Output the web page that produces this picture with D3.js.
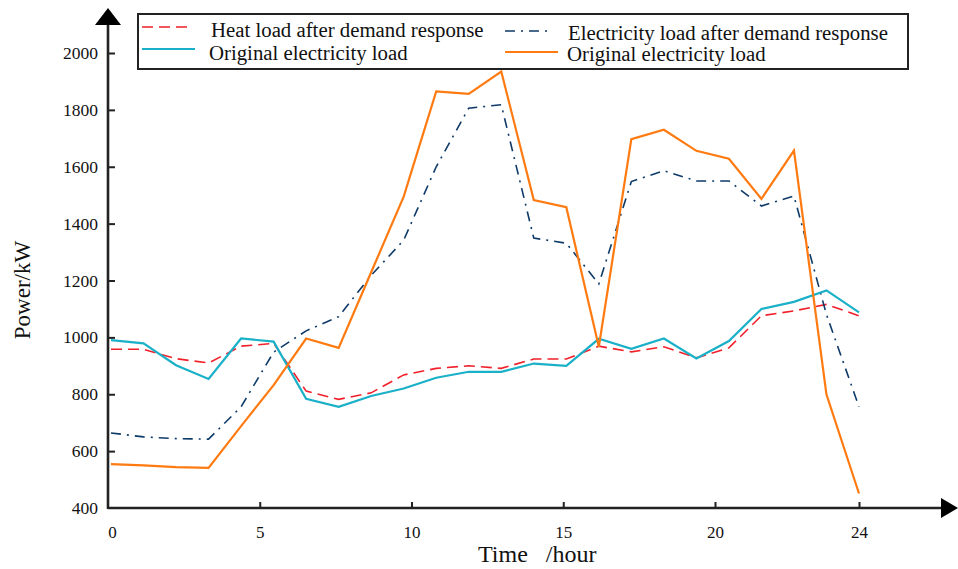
<!DOCTYPE html>
<html>
<head>
<meta charset="utf-8">
<script src="https://cdn.jsdelivr.net/npm/d3@7"></script>
<style>
  body { margin: 0; background: #fff; }
  svg text { font-family: "Liberation Serif", "Times New Roman", serif; fill: #111; }
</style>
</head>
<body>
<div id="chart"></div>
<script>
var width = 958,
    height = 569;
var serif = '"Liberation Serif", "Times New Roman", serif';

// hours 1..24
var hours = [1, 2, 3, 4, 5, 6, 7, 8, 9, 10, 11, 12, 13, 14, 15, 16, 17, 18, 19, 20, 21, 22, 23, 24];
var heatAfterDR = [958, 958, 925, 910, 969, 979, 811, 782, 805, 868, 891, 900, 891, 924, 924, 969, 949, 967, 928, 963, 1076, 1093, 1116, 1076];
var elecAfterDR = [664, 650, 644, 642, 756, 948, 1023, 1073, 1218, 1342, 1600, 1806, 1818, 1349, 1331, 1188, 1548, 1586, 1550, 1550, 1462, 1497, 1080, 756];
var origElecCyan = [990, 979, 902, 854, 996, 985, 784, 756, 794, 820, 858, 879, 879, 908, 900, 995, 960, 996, 926, 987, 1100, 1125, 1165, 1088];
var origElecOrange = [554, 550, 544, 541, 688, 832, 996, 963, 1229, 1495, 1865, 1856, 1935, 1483, 1458, 967, 1697, 1730, 1656, 1628, 1487, 1657, 799, 451];

var xTicks = [0, 5, 10, 15, 20, 24];
var yTicks = [400, 600, 800, 1000, 1200, 1400, 1600, 1800, 2000];

var series = [
  { name: 'Heat load after demand response', values: heatAfterDR, color: '#f0202a', width: 1.6, dash: '11,6' },
  { name: 'Electricity load after demand response', values: elecAfterDR, color: '#0e3a68', width: 1.6, dash: '10,6,2,6' },
  { name: 'Original electricity load', values: origElecCyan, color: '#1ab0c8', width: 2.2, dash: null },
  { name: 'Original electricity load', values: origElecOrange, color: '#ff7a10', width: 2.2, dash: null }
];

var x0 = 108, xEnd = 958, y0 = 508, yTop = 8;

// tick axis is not evenly spaced at the last label
var xTick = d3.scaleLinear().domain([0, 20, 24]).range([108, 715, 859]);
var xScale = d3.scaleLinear().domain([1, 24]).range([111, 859]);
var yScale = d3.scaleLinear().domain([400, 2000]).range([y0, 53]);

var svg = d3.select('#chart').
  append('svg').
  attr('width', width).
  attr('height', height);

// lines
var line = d3.line().
  x((d, i) => xScale(hours[i])).
  y(d => yScale(d));

svg.selectAll('path.series').
  data(series).
  enter().
  append('path').
  attr('class', 'series').
  attr('d', d => line(d.values)).
  attr('fill', 'none').
  attr('stroke', d => d.color).
  attr('stroke-width', d => d.width).
  attr('stroke-dasharray', d => d.dash).
  attr('stroke-linejoin', 'miter');

// axes
var xAxis = d3.axisBottom(xTick).
  tickValues(xTicks).
  tickSize(0).
  tickPadding(18).
  tickFormat(d3.format('d'));

var gx = svg.append('g').
  attr('transform', 'translate(0,' + y0 + ')').
  call(xAxis).
  attr('font-family', serif).
  attr('font-size', 17);
gx.select('.domain').remove();
gx.selectAll('.tick text').
  style('font-family', serif).
  style('font-size', '17px').
  attr('dx', d => d === 0 ? 4 : 0);
gx.selectAll('.tick').
  filter(d => d !== 0).
  append('line').
  attr('y1', 0).
  attr('y2', -6).
  attr('stroke', '#222').
  attr('stroke-width', 2);

var yAxis = d3.axisLeft(yScale).
  tickValues(yTicks).
  tickSize(0).
  tickPadding(10).
  tickFormat(d3.format('d'));

var gy = svg.append('g').
  attr('transform', 'translate(' + x0 + ',0)').
  call(yAxis).
  attr('font-family', serif).
  attr('font-size', 17.5);
gy.select('.domain').remove();
gy.selectAll('.tick text').
  style('font-family', serif).
  style('font-size', '17.5px');
gy.selectAll('.tick').
  filter(d => d !== 400).
  append('line').
  attr('x1', 0).
  attr('x2', 7).
  attr('stroke', '#222').
  attr('stroke-width', 2);

// axis lines with arrows
svg.append('line').
  attr('x1', x0).attr('y1', y0).
  attr('x2', xEnd - 15).attr('y2', y0).
  attr('stroke', '#222').attr('stroke-width', 2.6);
svg.append('line').
  attr('x1', x0).attr('y1', y0 + 1).
  attr('x2', x0).attr('y2', yTop + 15).
  attr('stroke', '#222').attr('stroke-width', 2.6);
svg.append('path').
  attr('d', 'M' + xEnd + ',' + y0 + 'L' + (xEnd - 17) + ',' + (y0 - 10) + 'L' + (xEnd - 17) + ',' + (y0 + 10) + 'Z').
  attr('fill', '#000');
svg.append('path').
  attr('d', 'M' + x0 + ',' + yTop + 'L' + (x0 - 13) + ',' + (yTop + 17) + 'L' + (x0 + 13) + ',' + (yTop + 17) + 'Z').
  attr('fill', '#000');

// axis titles
svg.append('text').
  attr('x', 478).
  attr('y', 562).
  style('font-size', '24px').
  style('white-space', 'pre').
  text('Time   /hour');

svg.append('text').
  attr('transform', 'translate(30,290) rotate(-90)').
  attr('text-anchor', 'middle').
  style('font-size', '23px').
  text('Power/kW');

// legend
svg.append('rect').
  attr('x', 138).
  attr('y', 14).
  attr('width', 770).
  attr('height', 55).
  attr('fill', '#fff').
  attr('stroke', '#222').
  attr('stroke-width', 2);

var legendPos = [
  { sx: 142, ex: 190, sy: 27, tx: 211, ty: 37 },
  { sx: 505, ex: 552, sy: 31, tx: 568, ty: 40 },
  { sx: 142, ex: 195, sy: 49, tx: 209, ty: 60 },
  { sx: 505, ex: 558, sy: 52, tx: 567, ty: 61 }
];

var lg = svg.selectAll('g.legend').
  data(series).
  enter().
  append('g').
  attr('class', 'legend');

lg.append('line').
  attr('x1', (d, i) => legendPos[i].sx).
  attr('x2', (d, i) => legendPos[i].ex).
  attr('y1', (d, i) => legendPos[i].sy).
  attr('y2', (d, i) => legendPos[i].sy).
  attr('stroke', d => d.color).
  attr('stroke-width', d => d.width).
  attr('stroke-dasharray', d => d.dash);

lg.append('text').
  attr('x', (d, i) => legendPos[i].tx).
  attr('y', (d, i) => legendPos[i].ty).
  style('font-size', '20.8px').
  text(d => d.name);
</script>
</body>
</html>
